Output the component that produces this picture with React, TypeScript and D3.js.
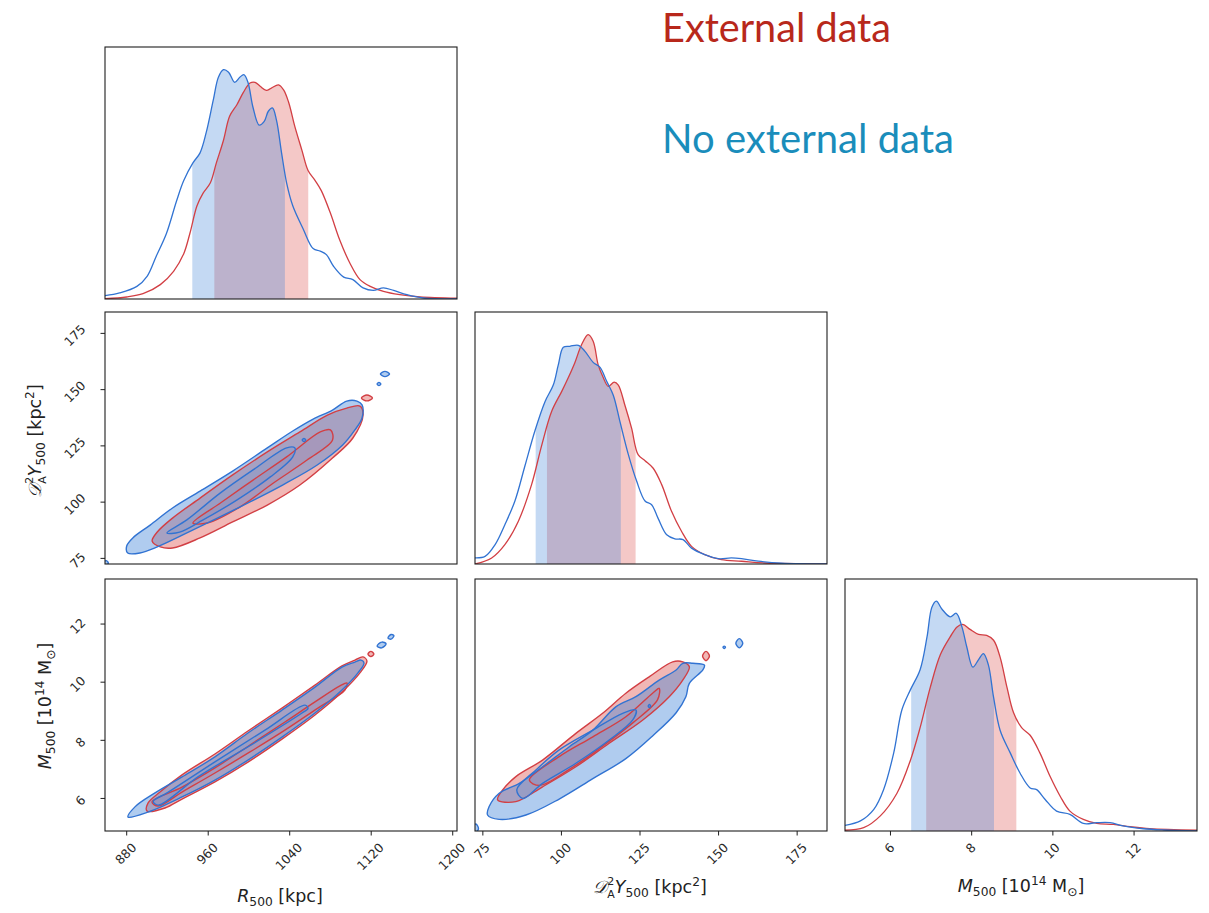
import React from 'react';
import * as d3 from 'd3';

const WIDTH = 1209;
const HEIGHT = 913;
const COL_X = [105, 475, 845];
const ROW_Y = [47, 312, 579];
const PANEL_W = 352;
const PANEL_H = 252;

// Parameter ranges shown on each axis
const r500Domain: [number, number] = [858.7, 1204.2];
const d2yDomain: [number, number] = [72.5, 184.5];
const m500Domain: [number, number] = [4.88, 13.55];
const densityDomain: [number, number] = [0, 1];

const r500Ticks = [880, 960, 1040, 1120, 1200];
const d2yTicks = [75, 100, 125, 150, 175];
const m500Ticks = [6, 8, 10, 12];

const seriesLabels = ['External data', 'No external data'];

// Marginal posteriors: [parameter value, relative density]
const r500External: number[][] = [
  [858.7, 0.001], [880, 0.008], [896, 0.021], [913, 0.057], [926, 0.11], [936, 0.18], [942, 0.26],
  [949, 0.37], [955, 0.42], [962, 0.46], [968, 0.54], [975, 0.63], [981, 0.725], [988, 0.77],
  [994.5, 0.82], [1001, 0.857], [1006, 0.86], [1011, 0.844], [1017, 0.828], [1022, 0.837],
  [1029, 0.85], [1034, 0.83], [1039, 0.78], [1045, 0.685], [1052, 0.59], [1058, 0.51], [1065, 0.47],
  [1071, 0.43], [1080, 0.34], [1089, 0.235], [1099, 0.143], [1109, 0.077], [1119, 0.05],
  [1132, 0.03], [1148, 0.017], [1168, 0.008], [1204.2, 0.003],
];
const r500NoExternal: number[][] = [
  [858.7, 0.013], [873, 0.024], [890, 0.05], [900, 0.09], [909, 0.17], [919, 0.26], [929, 0.39],
  [936, 0.47], [945, 0.54], [952, 0.58], [958, 0.66], [965, 0.79], [970, 0.88], [975, 0.91],
  [980, 0.9], [986, 0.86], [991, 0.88], [995, 0.89], [999, 0.86], [1004, 0.76], [1010, 0.69],
  [1015, 0.705], [1019, 0.745], [1023, 0.758], [1027, 0.71], [1032, 0.58], [1037, 0.46],
  [1043, 0.37], [1053, 0.28], [1063, 0.2], [1070, 0.19], [1076, 0.176], [1083, 0.13],
  [1093, 0.087], [1102, 0.077], [1112, 0.044], [1122, 0.034], [1132, 0.044], [1142, 0.034],
  [1155, 0.017], [1171, 0.004], [1204.2, 0],
];
const d2yExternal: number[][] = [
  [72.5, 0], [77.8, 0.024], [82, 0.077], [86.3, 0.17], [90.5, 0.315], [93.7, 0.47], [96.9, 0.606],
  [100.1, 0.685], [102.2, 0.74], [104.3, 0.8], [106.4, 0.87], [108.5, 0.91], [110.1, 0.884],
  [111.7, 0.79], [113.3, 0.74], [114.9, 0.705], [116.8, 0.722], [118.1, 0.71], [120.2, 0.63],
  [122.3, 0.54], [124.4, 0.434], [126.6, 0.41], [129.2, 0.38], [131.9, 0.315], [135, 0.21],
  [138.2, 0.13], [141.4, 0.07], [145.6, 0.037], [150.9, 0.017], [157.3, 0.011], [164.7, 0.004],
  [184.5, 0],
];
const d2yNoExternal: number[][] = [
  [72.5, 0.024], [75.7, 0.03], [78.9, 0.077], [82, 0.156], [85.2, 0.25], [88.4, 0.39], [91.6, 0.53],
  [94.8, 0.645], [97.4, 0.71], [99, 0.79], [100.6, 0.86], [102.7, 0.864], [105.4, 0.868],
  [107.5, 0.844], [110.1, 0.8], [112.3, 0.78], [114.4, 0.725], [116.5, 0.67], [118.6, 0.566],
  [121.3, 0.434], [123.9, 0.33], [126.6, 0.25], [128.7, 0.235], [130.8, 0.18], [133.5, 0.116],
  [136.1, 0.1], [138.7, 0.097], [141.4, 0.063], [145.6, 0.037], [149.9, 0.021], [154.1, 0.024],
  [157.3, 0.021], [162.6, 0.011], [170, 0.003], [184.5, 0],
];
const m500External: number[][] = [
  [4.88, 0.003], [5.34, 0.013], [5.75, 0.06], [6.16, 0.15], [6.49, 0.28], [6.73, 0.41], [6.98, 0.57],
  [7.23, 0.7], [7.47, 0.77], [7.64, 0.81], [7.78, 0.82], [7.96, 0.8], [8.17, 0.78], [8.37, 0.776],
  [8.54, 0.757], [8.7, 0.69], [8.87, 0.57], [9.03, 0.47], [9.23, 0.41], [9.44, 0.38], [9.68, 0.31],
  [9.93, 0.217], [10.18, 0.138], [10.42, 0.079], [10.75, 0.046], [11.08, 0.03], [11.49, 0.026],
  [11.9, 0.017], [12.39, 0.009], [13.55, 0.003],
];
const m500NoExternal: number[][] = [
  [4.88, 0.022], [5.26, 0.04], [5.59, 0.086], [5.83, 0.164], [6.08, 0.31], [6.28, 0.48], [6.49, 0.56],
  [6.73, 0.64], [6.9, 0.77], [7.02, 0.888], [7.13, 0.912], [7.27, 0.88], [7.47, 0.85], [7.62, 0.864],
  [7.76, 0.81], [7.88, 0.73], [8.03, 0.65], [8.17, 0.68], [8.29, 0.704], [8.41, 0.66], [8.54, 0.53],
  [8.7, 0.4], [8.95, 0.31], [9.19, 0.23], [9.44, 0.171], [9.6, 0.164], [9.81, 0.125], [10.09, 0.079],
  [10.42, 0.066], [10.75, 0.03], [11.08, 0.033], [11.41, 0.033], [11.73, 0.02], [12.23, 0.009],
  [12.72, 0.004], [13.55, 0],
];

// 68% credible intervals of the marginals
const r500IntervalExternal = [966, 1058.2];
const r500IntervalNoExternal = [944.4, 1035.3];
const d2yIntervalExternal = [95.4, 123.6];
const d2yIntervalNoExternal = [91.8, 118.9];
const m500IntervalExternal = [6.88, 9.1];
const m500IntervalNoExternal = [6.51, 8.55];

// Joint credible regions (95% outer, 68% inner) traced as closed outlines
const r500D2yExternalOuter: number[][] = [
  [905, 82.7], [913, 80.1], [925, 79.6], [952, 84.1], [984, 91.2], [1018, 98.7], [1050, 107.6],
  [1082, 119.6], [1102, 128.5], [1112, 138.7], [1109, 142.7], [1096, 141.8], [1077, 138.7],
  [1050, 131.2], [1018, 122.3], [984, 112.1], [952, 101.8], [925, 92.9], [910, 86.7],
];
const r500D2yExternalInner: number[][] = [
  [945, 90.7], [972, 99.6], [1004, 109.8], [1037, 120.1], [1070, 131.2], [1080, 132.1],
  [1082, 127.6], [1057, 118.7], [1024, 108.5], [991, 97.8], [959, 90.7],
];
const r500D2yExternalIslands: number[][][] = [
  [[1110.4, 146.3], [1115.8, 147.6], [1121.2, 146.3], [1115.8, 145]],
];
const r500D2yNoExternalOuter: number[][] = [
  [881, 77.4], [893, 77.4], [910, 80.1], [935, 85.4], [969, 92.9], [1001, 100.1], [1033, 107.6],
  [1067, 116.5], [1092, 125.4], [1104, 132.1], [1111, 137.4], [1111, 143.2], [1106, 144.9],
  [1096, 144.9], [1082, 140.9], [1063, 136.9], [1043, 131.6], [1018, 124.1], [984, 113.8],
  [952, 104.9], [925, 97.4], [903, 89.8], [886, 84.1], [880, 80.5],
];
const r500D2yNoExternalInner: number[][] = [
  [919.5, 86.3], [939, 92.1], [972, 104.1], [1004, 114.3], [1037, 124.1], [1045, 124.1],
  [1043, 120.1], [1021, 111.2], [988, 100.9], [955, 92.1], [932, 86.7],
];
const r500D2yNoExternalIslands: number[][][] = [
  [[1129, 156.9], [1133.5, 158.1], [1138, 156.9], [1133.5, 155.8]],
  [[1125.8, 152.5], [1127.6, 153.2], [1129.4, 152.5], [1127.6, 151.8]],
  [[1052.3, 127.6], [1054, 128.3], [1055.7, 127.6], [1054, 126.9]],
  [[857, 73.2], [860, 74], [862, 72.8], [859, 72]],
];

const r500M500ExternalOuter: number[][] = [
  [899.9, 5.57], [917.6, 5.67], [934.3, 5.98], [966.6, 6.57], [999, 7.25], [1032.4, 8.04],
  [1064.8, 8.87], [1091.3, 9.66], [1108.9, 10.32], [1115.8, 10.73], [1111.9, 10.87], [1104, 10.76],
  [1091.3, 10.56], [1064.8, 9.9], [1032.4, 9.11], [999, 8.32], [966.6, 7.53], [934.3, 6.81],
  [912.7, 6.22], [900.9, 5.84],
];
const r500M500ExternalInner: number[][] = [
  [904.8, 5.88], [934.3, 6.39], [966.6, 7.05], [1001, 7.84], [1035.3, 8.63], [1064.8, 9.32],
  [1089.3, 9.87], [1096.2, 9.97], [1094.2, 9.73], [1067.7, 9.11], [1035.3, 8.35], [1001, 7.6],
  [966.6, 6.875], [934.3, 6.22], [910.7, 5.74],
];
const r500M500ExternalIslands: number[][][] = [
  [[1116.8, 10.97], [1119.7, 11.06], [1122.6, 10.97], [1119.7, 10.88]],
];
const r500M500NoExternalOuter: number[][] = [
  [881.3, 5.36], [900.9, 5.53], [934.3, 6.05], [966.6, 6.63], [999, 7.32], [1032.4, 8.11],
  [1064.8, 8.94], [1091.3, 9.73], [1107, 10.32], [1112.9, 10.66], [1109.9, 10.76], [1104, 10.69],
  [1091.3, 10.52], [1064.8, 9.83], [1032.4, 9.04], [999, 8.25], [966.6, 7.43], [934.3, 6.74],
  [907.8, 6.19], [888.1, 5.71],
];
const r500M500NoExternalInner: number[][] = [
  [906, 5.9], [920, 6.2], [966.6, 7.26], [1015.7, 8.35], [1055, 9.21], [1058, 9.1], [1051.7, 8.93],
  [999.3, 7.78], [950.3, 6.75], [911, 5.77],
];
const r500M500NoExternalIslands: number[][][] = [
  [[1125.8, 11.24], [1130.2, 11.38], [1134.6, 11.32], [1130.2, 11.18]],
  [[1136.5, 11.52], [1139.4, 11.64], [1142.3, 11.6], [1139.4, 11.48]],
];

const d2yM500ExternalOuter: number[][] = [
  [79.7, 5.95], [85.5, 5.89], [94, 6.4], [104.6, 7.09], [115.2, 7.9], [125.9, 8.7], [134.3, 9.5],
  [138.6, 10.07], [140.7, 10.53], [138.6, 10.7], [135.4, 10.7], [128, 10.19], [120.5, 9.62],
  [113.1, 8.93], [104.6, 8.24], [94, 7.32], [85.5, 6.75], [81.3, 6.29],
];
const d2yM500ExternalInner: number[][] = [
  [89.8, 6.63], [99.3, 7.44], [110, 8.12], [120.5, 8.81], [129, 9.62], [131.1, 9.79], [130.6, 9.4],
  [122.7, 8.6], [113.1, 7.8], [102.5, 7.0], [93, 6.45],
];
const d2yM500ExternalIslands: number[][][] = [
  [[144.9, 10.9], [146, 11.06], [147.1, 10.9], [146, 10.74]],
];
const d2yM500NoExternalOuter: number[][] = [
  [76.5, 5.43], [80.2, 5.28], [88.7, 5.43], [99.3, 5.98], [110, 6.68], [120.5, 7.37], [129, 8.15],
  [136.5, 8.95], [139.6, 9.5], [140.7, 9.96], [145, 10.42], [145.5, 10.59], [141.8, 10.65],
  [138.6, 10.65], [136.5, 10.42], [131.1, 10.07], [123.7, 9.5], [117.4, 9.16], [110, 8.35],
  [102.5, 7.78], [94, 7.09], [86.6, 6.52], [80.2, 6.18], [77, 5.72],
];
const d2yM500NoExternalInner: number[][] = [
  [85.8, 6.3], [91.9, 6.98], [99.3, 7.67], [110, 8.35], [119.5, 8.93], [123.7, 9.04], [122.7, 8.7],
  [115.2, 8.01], [104.6, 7.21], [94, 6.52], [87.7, 6.0],
];
const d2yM500NoExternalIslands: number[][][] = [
  [[155.5, 11.34], [156.6, 11.5], [157.7, 11.34], [156.6, 11.18]],
  [[151.4, 11.2], [151.8, 11.24], [152.2, 11.2], [151.8, 11.16]],
  [[127.6, 9.18], [128, 9.23], [128.4, 9.18], [128, 9.13]],
  [[71.5, 5.0], [72.8, 5.12], [73.6, 4.95], [72.5, 4.82]],
];

const EXT_LINE = '#d23f44';
const NOEXT_LINE = '#3173d2';
const EXT_FILL = '#dc4a46';
const NOEXT_FILL = '#3a80d8';
const FRAME = '#1e1e1e';
const TICK_FONT = 12.5;
const LABEL_FONT = 17.5;
const FONT = "'DejaVu Sans', sans-serif";

const xScaleFor = (domain: [number, number], col: number) =>
  d3.scaleLinear().domain(domain).range([COL_X[col], COL_X[col] + PANEL_W]);
const yScaleFor = (domain: [number, number], row: number) =>
  d3.scaleLinear().domain(domain).range([ROW_Y[row] + PANEL_H, ROW_Y[row]]);

// side of the square box that a -45° rotated number occupies
const rotatedBox = (label: string) => {
  const w = label.length * 0.636 * TICK_FONT;
  const h = 0.73 * TICK_FONT;
  return (w + h) / Math.SQRT2;
};

function XTicks({ col, row, domain, ticks }: { col: number; row: number; domain: [number, number]; ticks: number[] }) {
  const x = xScaleFor(domain, col);
  const base = ROW_Y[row] + PANEL_H;
  return (
    <g>
      {ticks.map((t) => {
        const label = String(t);
        const side = rotatedBox(label);
        const cx = x(t) - 1;
        const cy = base + 11 + side / 2;
        return (
          <g key={t}>
            <line x1={x(t)} x2={x(t)} y1={base} y2={base + 4.5} stroke={FRAME} strokeWidth={1} />
            <text
              transform={`translate(${cx},${cy}) rotate(-45)`}
              textAnchor="middle"
              dominantBaseline="central"
              fontSize={TICK_FONT}
              fontFamily={FONT}
              fill="#2a2a2a"
            >
              {label}
            </text>
          </g>
        );
      })}
    </g>
  );
}

function YTicks({ col, row, domain, ticks }: { col: number; row: number; domain: [number, number]; ticks: number[] }) {
  const y = yScaleFor(domain, row);
  const left = COL_X[col];
  return (
    <g>
      {ticks.map((t) => {
        const label = String(t);
        const side = rotatedBox(label);
        const cx = left - 18.5 - side / 2;
        const cy = y(t) + 2;
        return (
          <g key={t}>
            <line x1={left - 4.5} x2={left} y1={y(t)} y2={y(t)} stroke={FRAME} strokeWidth={1} />
            <text
              transform={`translate(${cx},${cy}) rotate(-45)`}
              textAnchor="middle"
              dominantBaseline="central"
              fontSize={TICK_FONT}
              fontFamily={FONT}
              fill="#2a2a2a"
            >
              {label}
            </text>
          </g>
        );
      })}
    </g>
  );
}

function Frame({ col, row }: { col: number; row: number }) {
  return (
    <rect x={COL_X[col]} y={ROW_Y[row]} width={PANEL_W} height={PANEL_H} fill="none" stroke={FRAME} strokeWidth={1.1} />
  );
}

type MarginalProps = {
  id: string;
  col: number;
  row: number;
  domain: [number, number];
  ext: number[][];
  noExt: number[][];
  extBand: number[];
  noExtBand: number[];
};

function Marginal({ id, col, row, domain, ext, noExt, extBand, noExtBand }: MarginalProps) {
  const x = xScaleFor(domain, col);
  const y = yScaleFor(densityDomain, row);
  const curve = d3.curveCatmullRom.alpha(0.5);
  const line = d3.line<number[]>().x((d) => x(d[0])).y((d) => y(d[1])).curve(curve);
  const area = d3
    .area<number[]>()
    .x((d) => x(d[0]))
    .y0(y(0))
    .y1((d) => y(d[1]))
    .curve(curve);
  const top = ROW_Y[row];
  return (
    <g>
      <defs>
        <clipPath id={`${id}-frame`}>
          <rect x={COL_X[col]} y={top} width={PANEL_W} height={PANEL_H} />
        </clipPath>
        <clipPath id={`${id}-ext`}>
          <rect x={x(extBand[0])} y={top} width={x(extBand[1]) - x(extBand[0])} height={PANEL_H} />
        </clipPath>
        <clipPath id={`${id}-noext`}>
          <rect x={x(noExtBand[0])} y={top} width={x(noExtBand[1]) - x(noExtBand[0])} height={PANEL_H} />
        </clipPath>
      </defs>
      <g clipPath={`url(#${id}-frame)`}>
        <g clipPath={`url(#${id}-ext)`}>
          <path d={area(ext) || ''} fill={EXT_FILL} fillOpacity={0.3} />
        </g>
        <g clipPath={`url(#${id}-noext)`}>
          <path d={area(noExt) || ''} fill={NOEXT_FILL} fillOpacity={0.3} />
        </g>
        <path d={line(ext) || ''} fill="none" stroke={EXT_LINE} strokeWidth={1.3} />
        <path d={line(noExt) || ''} fill="none" stroke={NOEXT_LINE} strokeWidth={1.3} />
      </g>
      <Frame col={col} row={row} />
    </g>
  );
}

type Region = { outer: number[][]; inner: number[][]; islands: number[][][] };

type JointProps = {
  id: string;
  col: number;
  row: number;
  xDomain: [number, number];
  yDomain: [number, number];
  ext: Region;
  noExt: Region;
};

function Joint({ id, col, row, xDomain, yDomain, ext, noExt }: JointProps) {
  const x = xScaleFor(xDomain, col);
  const y = yScaleFor(yDomain, row);
  const outline = d3
    .line<number[]>()
    .x((d) => x(d[0]))
    .y((d) => y(d[1]))
    .curve(d3.curveCatmullRomClosed.alpha(0.5));
  const fills = (r: Region, color: string) => (
    <g>
      <path d={outline(r.outer) || ''} fill={color} fillOpacity={0.4} />
      <path d={outline(r.inner) || ''} fill={color} fillOpacity={0.12} />
      {r.islands.map((p, i) => (
        <path key={i} d={outline(p) || ''} fill={color} fillOpacity={0.4} />
      ))}
    </g>
  );
  const lines = (r: Region, color: string) => (
    <g fill="none" stroke={color} strokeWidth={1.4}>
      <path d={outline(r.outer) || ''} />
      <path d={outline(r.inner) || ''} />
      {r.islands.map((p, i) => (
        <path key={i} d={outline(p) || ''} />
      ))}
    </g>
  );
  return (
    <g>
      <defs>
        <clipPath id={`${id}-frame`}>
          <rect x={COL_X[col]} y={ROW_Y[row]} width={PANEL_W} height={PANEL_H} />
        </clipPath>
      </defs>
      <g clipPath={`url(#${id}-frame)`}>
        {fills(ext, EXT_FILL)}
        {fills(noExt, NOEXT_FILL)}
        {lines(ext, EXT_LINE)}
        {lines(noExt, NOEXT_LINE)}
      </g>
      <Frame col={col} row={row} />
    </g>
  );
}

const SUB = LABEL_FONT * 0.7;
const STACK = 11;

function R500Label({ x, y }: { x: number; y: number }) {
  return (
    <text x={x} y={y} textAnchor="middle" fontSize={LABEL_FONT} fontFamily={FONT} fill="#222">
      <tspan fontStyle="italic">R</tspan>
      <tspan fontSize={SUB} dy={4}>500</tspan>
      <tspan dy={-4}> [kpc]</tspan>
    </text>
  );
}

function D2yLabel({ x, y, rotate }: { x: number; y: number; rotate?: boolean }) {
  return (
    <text
      transform={`translate(${x},${y})${rotate ? ' rotate(-90)' : ''}`}
      textAnchor="middle"
      fontSize={LABEL_FONT}
      fontFamily={FONT}
      fill="#222"
    >
      <tspan fontStyle="italic">𝒟</tspan>
      <tspan fontSize={STACK} dy={-8.5}>2</tspan>
      <tspan fontSize={STACK} dx={-STACK * 0.636} dy={13.5}>A</tspan>
      <tspan fontStyle="italic" dy={-5}>Y</tspan>
      <tspan fontSize={SUB} dy={4}>500</tspan>
      <tspan dy={-4}> [kpc</tspan>
      <tspan fontSize={SUB} dy={-7}>2</tspan>
      <tspan dy={7}>]</tspan>
    </text>
  );
}

function M500Label({ x, y, rotate }: { x: number; y: number; rotate?: boolean }) {
  return (
    <text
      transform={`translate(${x},${y})${rotate ? ' rotate(-90)' : ''}`}
      textAnchor="middle"
      fontSize={LABEL_FONT}
      fontFamily={FONT}
      fill="#222"
    >
      <tspan fontStyle="italic">M</tspan>
      <tspan fontSize={SUB} dy={4}>500</tspan>
      <tspan dy={-4}> [10</tspan>
      <tspan fontSize={SUB} dy={-7}>14</tspan>
      <tspan dy={7}> M</tspan>
      <tspan fontSize={SUB} dy={4}>⊙</tspan>
      <tspan dy={-4}>]</tspan>
    </text>
  );
}

export default function App() {
  return (
    <svg
      width={WIDTH}
      height={HEIGHT}
      viewBox={`0 0 ${WIDTH} ${HEIGHT}`}
      style={{ position: 'absolute', left: 0, top: 0, background: '#fff' }}
    >
      <rect x={0} y={0} width={WIDTH} height={HEIGHT} fill="#fff" />

      {/* diagonal: marginal posteriors */}
      <Marginal
        id="m-r500"
        col={0}
        row={0}
        domain={r500Domain}
        ext={r500External}
        noExt={r500NoExternal}
        extBand={r500IntervalExternal}
        noExtBand={r500IntervalNoExternal}
      />
      <Marginal
        id="m-d2y"
        col={1}
        row={1}
        domain={d2yDomain}
        ext={d2yExternal}
        noExt={d2yNoExternal}
        extBand={d2yIntervalExternal}
        noExtBand={d2yIntervalNoExternal}
      />
      <Marginal
        id="m-m500"
        col={2}
        row={2}
        domain={m500Domain}
        ext={m500External}
        noExt={m500NoExternal}
        extBand={m500IntervalExternal}
        noExtBand={m500IntervalNoExternal}
      />

      {/* lower triangle: joint posteriors */}
      <Joint
        id="j-r500-d2y"
        col={0}
        row={1}
        xDomain={r500Domain}
        yDomain={d2yDomain}
        ext={{ outer: r500D2yExternalOuter, inner: r500D2yExternalInner, islands: r500D2yExternalIslands }}
        noExt={{ outer: r500D2yNoExternalOuter, inner: r500D2yNoExternalInner, islands: r500D2yNoExternalIslands }}
      />
      <Joint
        id="j-r500-m500"
        col={0}
        row={2}
        xDomain={r500Domain}
        yDomain={m500Domain}
        ext={{ outer: r500M500ExternalOuter, inner: r500M500ExternalInner, islands: r500M500ExternalIslands }}
        noExt={{ outer: r500M500NoExternalOuter, inner: r500M500NoExternalInner, islands: r500M500NoExternalIslands }}
      />
      <Joint
        id="j-d2y-m500"
        col={1}
        row={2}
        xDomain={d2yDomain}
        yDomain={m500Domain}
        ext={{ outer: d2yM500ExternalOuter, inner: d2yM500ExternalInner, islands: d2yM500ExternalIslands }}
        noExt={{ outer: d2yM500NoExternalOuter, inner: d2yM500NoExternalInner, islands: d2yM500NoExternalIslands }}
      />

      {/* axes */}
      <YTicks col={0} row={1} domain={d2yDomain} ticks={d2yTicks} />
      <YTicks col={0} row={2} domain={m500Domain} ticks={m500Ticks} />
      <XTicks col={0} row={2} domain={r500Domain} ticks={r500Ticks} />
      <XTicks col={1} row={2} domain={d2yDomain} ticks={d2yTicks} />
      <XTicks col={2} row={2} domain={m500Domain} ticks={m500Ticks} />

      <R500Label x={280} y={902} />
      <D2yLabel x={650} y={893} />
      <M500Label x={1021} y={892} />
      <D2yLabel x={41} y={441} rotate />
      <M500Label x={51} y={706} rotate />

      {/* series legend */}
      <text x={662} y={42} fontSize={40} fontFamily="Lato, 'Open Sans', sans-serif" fill="#b8281b" textLength={229} lengthAdjust="spacingAndGlyphs">
        {seriesLabels[0]}
      </text>
      <text x={662} y={153} fontSize={40} fontFamily="Lato, 'Open Sans', sans-serif" fill="#1a8dbb" textLength={292} lengthAdjust="spacingAndGlyphs">
        {seriesLabels[1]}
      </text>
    </svg>
  );
}
